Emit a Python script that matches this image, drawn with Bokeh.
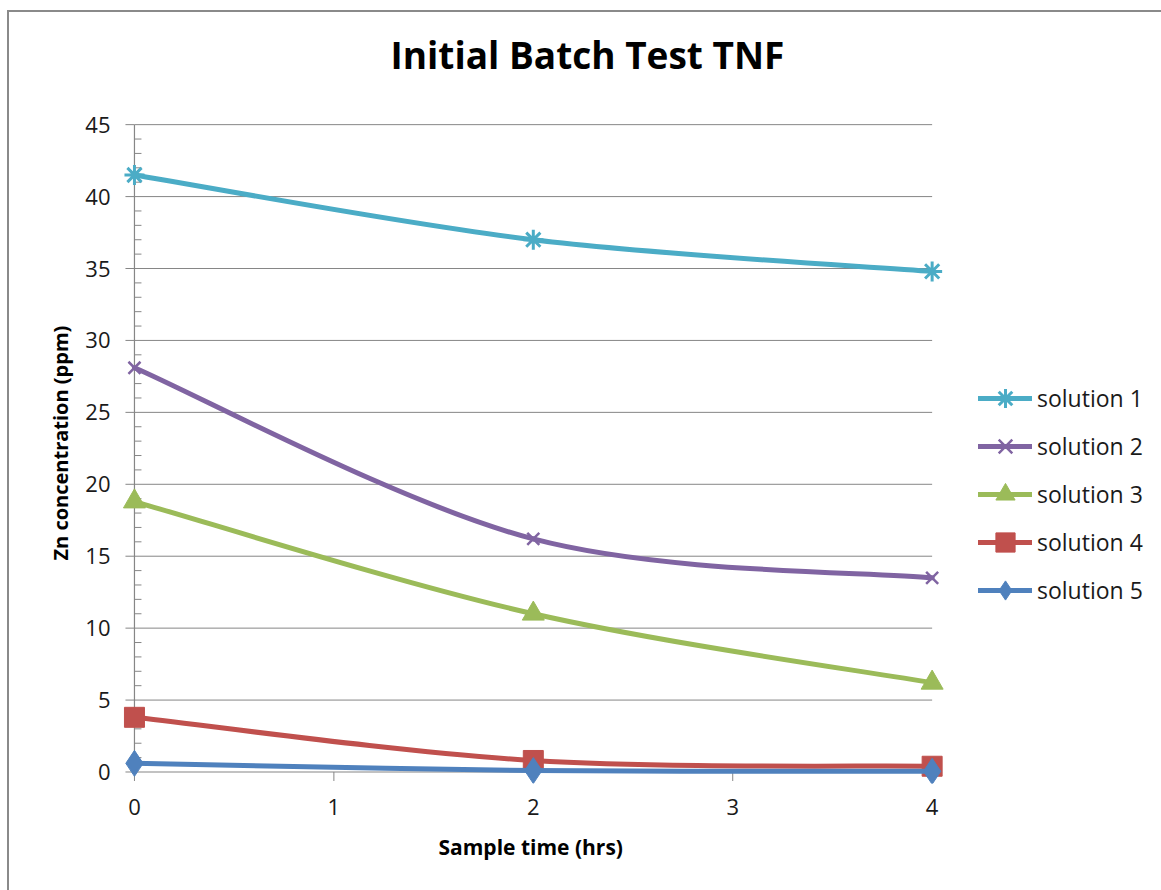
import math

from bokeh.embed import file_html
from bokeh.models import ColumnDataSource, FixedTicker, Legend, LegendItem, Range1d, Title
from bokeh.plotting import figure
from bokeh.resources import INLINE

# Sample times (hours) and Zn concentration (ppm) per solution
hours = [0, 2, 4]
solution_1 = [41.5, 37.0, 34.8]
solution_2 = [28.1, 16.2, 13.5]
solution_3 = [18.8, 11.0, 6.2]
solution_4 = [3.8, 0.8, 0.4]
solution_5 = [0.6, 0.1, 0.05]

series_names = ["solution 1", "solution 2", "solution 3", "solution 4", "solution 5"]
series_values = [solution_1, solution_2, solution_3, solution_4, solution_5]
series_colors = ["#4BACC6", "#8064A2", "#9BBB59", "#C0504D", "#4F81BD"]

x_ticks = [0, 1, 2, 3, 4]
y_ticks = [0, 5, 10, 15, 20, 25, 30, 35, 40, 45]
y_minor_ticks = [v for v in range(0, 46) if v % 5 != 0]

FONT = "Open Sans"
GRID = "#868686"


def smooth_curve(xs, ys):
    """Cubic Bezier pieces through the points (Catmull-Rom style, tension 1/6)."""
    px = [xs[0]] + list(xs) + [xs[-1]]
    py = [ys[0]] + list(ys) + [ys[-1]]
    out = dict(x0=[], y0=[], x1=[], y1=[], cx0=[], cy0=[], cx1=[], cy1=[])
    for i in range(1, len(px) - 2):
        out["x0"].append(px[i])
        out["y0"].append(py[i])
        out["x1"].append(px[i + 1])
        out["y1"].append(py[i + 1])
        out["cx0"].append(px[i] + (px[i + 1] - px[i - 1]) / 6)
        out["cy0"].append(py[i] + (py[i + 1] - py[i - 1]) / 6)
        out["cx1"].append(px[i + 1] - (px[i + 2] - px[i]) / 6)
        out["cy1"].append(py[i + 1] - (py[i + 2] - py[i]) / 6)
    return out


# The frame is a little larger than the data span so edge markers are not cut,
# reaches right so the legend sits inside it, and leaves headroom for the title.
p = figure(
    frame_width=1029,
    frame_height=702,
    x_range=Range1d(-0.06, 5.1),
    y_range=Range1d(-0.8, 48.0),
    output_backend="svg",
    toolbar_location=None,
    min_border_left=113,
    min_border_right=10,
    min_border_top=69,
    min_border_bottom=107,
    background_fill_color="white",
    border_fill_color="white",
    outline_line_color=None,
)
p.margin = (10, 0, 0, 7)
p.styles = {"border-top": "2px solid #8a8a8a", "border-left": "2px solid #8a8a8a"}

# Title
p.title.text = "Initial Batch Test TNF"
p.title.align = "left"
p.title.offset = 268
p.title.text_font = FONT
p.title.text_font_size = "37px"
p.title.text_font_style = "bold"
p.title.text_color = "black"
p.title.standoff = 3

# Grid lines, axis lines and tick marks over the sampled span
p.xgrid.visible = False
p.ygrid.visible = False
p.segment(x0=x_ticks[0], x1=x_ticks[-1], y0=y_ticks[1:], y1=y_ticks[1:],
          line_color=GRID, line_width=1)
p.segment(x0=x_ticks[0], x1=x_ticks[-1], y0=y_ticks[0], y1=y_ticks[0],
          line_color=GRID, line_width=1.2)
p.segment(x0=x_ticks[0], x1=x_ticks[0], y0=y_ticks[0], y1=y_ticks[-1],
          line_color=GRID, line_width=1.2)
p.ray(x=x_ticks[0], y=y_ticks, length=9, length_units="screen", angle=math.pi,
      line_color=GRID, line_width=1)
p.ray(x=x_ticks[0], y=y_minor_ticks, length=7, length_units="screen", angle=0,
      line_color=GRID, line_width=1)
p.ray(x=x_ticks, y=y_ticks[0], length=9, length_units="screen", angle=-math.pi / 2,
      line_color=GRID, line_width=1)

# Axes carry the tick labels
for ax in (p.xaxis[0], p.yaxis[0]):
    ax.axis_line_color = None
    ax.major_tick_line_color = None
    ax.minor_tick_line_color = None
    ax.major_tick_out = 0
    ax.major_tick_in = 0
    ax.minor_tick_out = 0
    ax.minor_tick_in = 0
    ax.major_label_text_font = FONT
    ax.major_label_text_font_size = "22px"
    ax.major_label_text_color = "#1a1a1a"

p.xaxis.ticker = FixedTicker(ticks=x_ticks, minor_ticks=[])
p.xaxis.major_label_standoff = 15
p.yaxis.ticker = FixedTicker(ticks=y_ticks, minor_ticks=[])
p.yaxis.major_label_standoff = 12

p.add_layout(Title(text="Sample time (hrs)", align="left", offset=316,
                   text_font=FONT, text_font_size="21px", text_font_style="bold",
                   text_color="black", standoff=26), "below")
p.add_layout(Title(text="Zn concentration (ppm)", align="left", offset=223,
                   text_font=FONT, text_font_size="20px", text_font_style="bold",
                   text_color="black", standoff=18), "left")

# Series: smoothed lines with markers
legend_items = []
for name, vals, color in zip(series_names, series_values, series_colors):
    curve = p.bezier(
        source=ColumnDataSource(smooth_curve(hours, vals)),
        x0="x0", y0="y0", x1="x1", y1="y1",
        cx0="cx0", cy0="cy0", cx1="cx1", cy1="cy1",
        line_color=color, line_width=5, line_cap="round",
    )
    if name == "solution 1":
        marks = p.scatter(hours, vals, marker="asterisk", size=20,
                          line_color=color, line_width=3)
    elif name == "solution 2":
        marks = p.scatter(hours, vals, marker="x", size=17,
                          line_color=color, line_width=2.5)
    elif name == "solution 3":
        marks = p.scatter(hours, vals, marker="triangle", size=22,
                          fill_color=color, line_color=color)
    elif name == "solution 4":
        marks = p.scatter(hours, vals, marker="square", size=20,
                          fill_color=color, line_color=color)
    else:
        marks = p.scatter(hours, vals, marker="diamond", size=26,
                          fill_color=color, line_color=color)
    legend_items.append(LegendItem(label=name, renderers=[curve, marks]))

legend = Legend(
    items=legend_items,
    location=(856, 169),
    orientation="vertical",
    border_line_color=None,
    background_fill_alpha=0,
    padding=0,
    margin=0,
    glyph_width=54,
    glyph_height=48,
    label_height=48,
    label_standoff=5,
    spacing=0,
    label_text_font=FONT,
    label_text_font_size="23px",
    label_text_color="#1a1a1a",
)
p.add_layout(legend, "center")

open("out.html", "w").write(file_html(p, INLINE))
